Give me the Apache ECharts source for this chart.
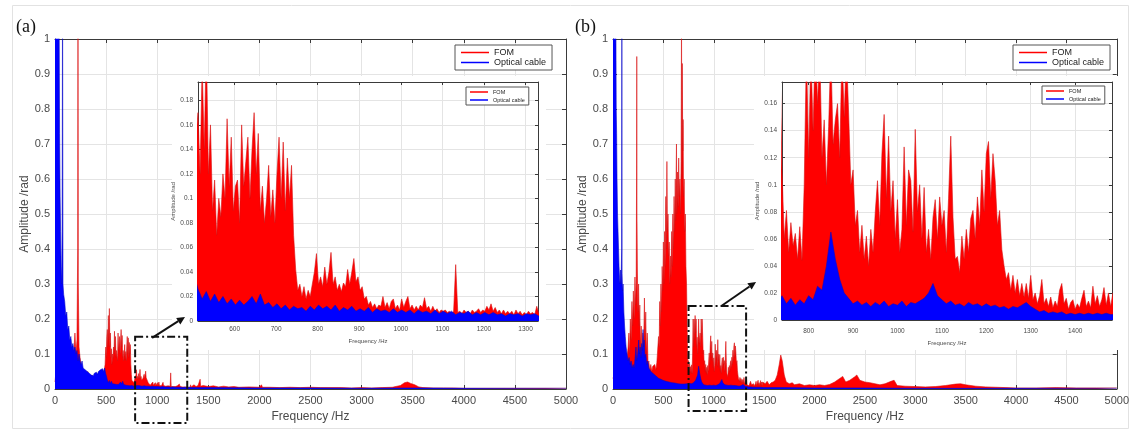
<!DOCTYPE html>
<html><head><meta charset="utf-8">
<script src="https://cdn.jsdelivr.net/npm/echarts@6/dist/echarts.min.js"></script>
<style>html,body{margin:0;padding:0;background:#fff}#c{width:1132px;height:432px}</style>
</head><body><div id="c"></div>
<script>
// ---------------- tick labels ----------------
const mainXTicks = [0,500,1000,1500,2000,2500,3000,3500,4000,4500,5000];
const mainYTicks = [0,0.1,0.2,0.3,0.4,0.5,0.6,0.7,0.8,0.9,1];
const insetAXTicks = [600,700,800,900,1000,1100,1200,1300];
const insetAYTicks = [0,0.02,0.04,0.06,0.08,0.1,0.12,0.14,0.16,0.18];
const insetBXTicks = [800,900,1000,1100,1200,1300,1400];
const insetBYTicks = [0,0.02,0.04,0.06,0.08,0.1,0.12,0.14,0.16];
const seriesNames = ['FOM','Optical cable'];

// ---------------- panel (a) data ----------------
const fomA_low = [[0,0.02],[10,0.05],[20,0.03],[30,0.04],[40,0.02],[60,0.03],[80,0.02],[100,0.04],[120,0.03],[140,0.05],[160,0.04],[180,0.08],[195,0.16],[205,0.1],[215,0.14],[222,0.4],[225,1.2],[228,0.3],[235,0.12],[245,0.09],[260,0.06],[280,0.05],[300,0.04],[320,0.05],[340,0.03],[360,0.04],[380,0.03],[400,0.035],[420,0.03],[440,0.04],[460,0.035],[480,0.05],[490,0.07],[497,0.12],[502,0.09],[507,0.15]];
const fomA_denseStart = 512, fomA_denseStep = 5;
const fomA_dense = [
0.17,0.12,0.21,0.14,0.23,0.12,0.16,0.09,0.115,0.07,
0.1,0.085,0.12,0.1,0.165,0.11,0.15,0.09,0.11,0.115,
0.08,0.16,0.11,0.13,0.15,0.1,0.14,0.17,0.12,0.153,
0.09,0.11,0.08,0.1,0.127,0.085,0.107,0.08,0.12,0.15,
0.1,0.146,0.09,0.133,0.1,0.127,0.07,0.042,0.025,0.03,
0.02,0.028,0.018,0.025,0.02,0.03,0.04,0.055,0.03,0.036,
0.028,0.044,0.03,0.04,0.056,0.03,0.036,0.025,0.03,0.024,
0.031,0.028,0.042,0.03,0.04,0.051,0.032,0.036,0.025,0.028,
0.018,0.02,0.013,0.016,0.011,0.014,0.01,0.013,0.012,0.02,
0.011,0.015,0.01,0.016,0.018,0.01,0.013,0.009,0.018,0.011,
0.016,0.02,0.01,0.013,0.009,0.012,0.009,0.013,0.011,0.019,
0.01,0.012,0.008,0.012,0.008,0.01,0.007,0.009,0.008,0.009,
0.007,0.008,0.006,0.008,0.046,0.007,0.008,0.006,0.009,0.007,
0.008,0.006,0.009,0.007,0.008,0.01,0.007,0.009,0.008,0.012,
0.009,0.014,0.008,0.011,0.007,0.009,0.006,0.009,0.006,0.008,
0.006,0.008,0.005,0.009,0.006,0.008,0.005,0.007,0.005,0.008,
0.006,0.007,0.005,0.012,0.006];
const fomA_high = [[1340,0.008],[1360,0.012],[1380,0.007],[1400,0.01],[1420,0.028],[1425,0.008],[1450,0.01],[1500,0.007],[1550,0.009],[1600,0.006],[1650,0.008],[1700,0.006],[1750,0.007],[1800,0.005],[1900,0.006],[2000,0.005],[2020,0.012],[2030,0.005],[2100,0.005],[2200,0.004],[2300,0.005],[2400,0.004],[2500,0.005],[2600,0.004],[2700,0.004],[2800,0.004],[2900,0.003],[3000,0.004],[3100,0.003],[3200,0.004],[3300,0.005],[3380,0.01],[3420,0.018],[3450,0.02],[3480,0.016],[3520,0.012],[3560,0.006],[3600,0.004],[3700,0.003],[3800,0.003],[3900,0.003],[4000,0.002],[4200,0.002],[4400,0.002],[4600,0.002],[4800,0.002],[5000,0.002]];

const cableA_low = [[0,1.2],[5,1.3],[10,1.2],[20,1.25],[30,1.2],[40,1.1],[45,0.73],[50,0.55],[55,0.45],[60,0.35],[65,0.3],[70,0.45],[74,1.2],[78,0.3],[85,0.27],[95,0.25],[105,0.21],[115,0.22],[125,0.17],[135,0.18],[145,0.14],[155,0.15],[165,0.12],[175,0.13],[185,0.11],[195,0.12],[205,0.1],[215,0.11],[225,0.08],[235,0.1],[245,0.08],[255,0.07],[265,0.08],[275,0.06],[285,0.065],[295,0.055],[305,0.06],[315,0.05],[325,0.055],[335,0.045],[345,0.05],[355,0.04],[365,0.045],[375,0.038],[385,0.045],[395,0.04],[405,0.048],[415,0.042],[425,0.05],[435,0.045],[445,0.055],[455,0.05],[465,0.058],[475,0.05],[485,0.06],[495,0.045],[505,0.035]];
const cableA_denseStart = 512, cableA_denseStep = 10;
const cableA_dense = [
0.026,0.018,0.024,0.016,0.022,0.015,0.02,0.014,0.018,0.013,
0.017,0.013,0.016,0.02,0.014,0.022,0.013,0.015,0.011,0.014,
0.01,0.013,0.009,0.012,0.01,0.011,0.008,0.012,0.009,0.013,
0.01,0.012,0.009,0.013,0.008,0.011,0.009,0.012,0.008,0.01,
0.008,0.011,0.007,0.01,0.008,0.009,0.007,0.01,0.007,0.009,
0.007,0.009,0.006,0.009,0.007,0.008,0.006,0.009,0.006,0.008,
0.006,0.008,0.005,0.007,0.006,0.008,0.005,0.007,0.005,0.007,
0.005,0.007,0.005,0.006,0.004,0.006,0.005,0.006,0.004,0.006,
0.005,0.006,0.004];
const cableA_high = [[1340,0.005],[1500,0.004],[2000,0.003],[2500,0.003],[3000,0.002],[3500,0.003],[4000,0.002],[5000,0.002]];

// ---------------- panel (b) data ----------------
const fomB_low = [[0,0.03],[20,0.05],[40,0.04],[60,0.06],[80,0.05],[100,0.07],[120,0.06],[140,0.09],[150,0.12],[158,0.16],[165,0.1],[172,0.2],[180,0.14],[188,0.25],[195,0.18],[202,0.28],[210,0.2],[218,0.32],[225,0.24],[230,0.3],[234,0.6],[236,0.95],[238,0.5],[242,0.34],[248,0.22],[254,0.3],[260,0.18],[266,0.24],[272,0.12],[280,0.18],[288,0.1],[296,0.16],[304,0.12],[312,0.26],[318,0.14],[325,0.22],[332,0.1],[340,0.16],[348,0.07],[356,0.08],[365,0.05],[375,0.07],[385,0.05],[395,0.065],[405,0.06],[415,0.07],[425,0.055],[435,0.075],[445,0.08],[452,0.15],[458,0.12],[464,0.25],[470,0.18],[476,0.3],[482,0.22],[488,0.35],[494,0.28],[500,0.42],[506,0.3],[512,0.45],[518,0.35],[524,0.55],[530,0.4],[535,0.65],[540,0.45],[546,0.5],[552,0.38],[558,0.42],[564,0.3],[570,0.38],[576,0.32],[582,0.45],[588,0.35],[594,0.5],[600,0.4],[606,0.55],[612,0.45],[618,0.6],[622,0.48],[626,0.6],[630,0.7],[634,0.5],[640,0.62],[646,0.52],[652,0.66],[658,0.55],[664,0.6],[670,0.5],[676,0.65],[680,1.05],[684,0.6],[688,0.93],[692,0.68],[696,0.77],[700,0.55],[706,0.6],[712,0.45],[718,0.5],[724,0.35],[730,0.3],[735,0.2]];
const fomB_denseStart = 740, fomB_denseStep = 5;
const fomB_dense = [
0.111,0.06,0.081,0.05,0.072,0.055,0.064,0.045,0.069,0.044,
0.1,0.2,0.12,0.2,0.14,0.21,0.16,0.2,0.12,0.148,
0.1,0.143,0.2,0.13,0.148,0.16,0.12,0.2,0.15,0.2,
0.153,0.1,0.111,0.07,0.081,0.05,0.07,0.045,0.062,0.04,
0.067,0.05,0.08,0.103,0.07,0.123,0.152,0.09,0.136,0.08,
0.103,0.06,0.089,0.05,0.067,0.128,0.07,0.111,0.103,0.065,
0.141,0.08,0.1,0.06,0.098,0.05,0.067,0.045,0.076,0.089,
0.06,0.091,0.07,0.081,0.05,0.09,0.136,0.076,0.045,0.047,
0.035,0.062,0.045,0.067,0.05,0.075,0.081,0.06,0.091,0.07,
0.111,0.08,0.123,0.132,0.09,0.123,0.103,0.07,0.081,0.052,
0.04,0.03,0.035,0.022,0.033,0.02,0.03,0.018,0.027,0.017,
0.027,0.016,0.033,0.015,0.02,0.012,0.018,0.03,0.012,0.016,
0.01,0.017,0.009,0.014,0.01,0.022,0.027,0.012,0.016,0.008,
0.013,0.015,0.008,0.012,0.009,0.016,0.022,0.01,0.014,0.009,
0.025,0.012,0.018,0.01,0.015,0.024,0.011,0.02,0.01,0.02];
const fomB_high = [[1490,0.02],[1510,0.015],[1530,0.022],[1550,0.012],[1570,0.018],[1590,0.02],[1610,0.025],[1630,0.04],[1650,0.07],[1665,0.097],[1680,0.08],[1700,0.04],[1720,0.02],[1750,0.015],[1780,0.018],[1800,0.012],[1850,0.015],[1900,0.01],[1950,0.012],[2000,0.01],[2050,0.012],[2100,0.01],[2150,0.013],[2200,0.02],[2250,0.03],[2280,0.036],[2310,0.02],[2350,0.025],[2400,0.035],[2420,0.04],[2450,0.025],[2500,0.02],[2550,0.018],[2600,0.015],[2650,0.012],[2700,0.015],[2760,0.022],[2790,0.025],[2820,0.01],[2900,0.008],[3000,0.007],[3100,0.006],[3200,0.007],[3300,0.01],[3400,0.014],[3450,0.015],[3500,0.012],[3600,0.008],[3700,0.006],[3800,0.005],[3900,0.004],[4000,0.003],[4200,0.003],[4400,0.004],[4600,0.003],[4800,0.003],[5000,0.003]];

const cableB_low = [[0,1.2],[5,1.3],[10,1.2],[20,1.2],[28,1.1],[32,0.8],[36,0.73],[40,0.6],[45,0.5],[50,0.45],[55,0.4],[60,0.35],[65,0.32],[70,0.3],[75,0.34],[80,0.3],[86,0.4],[88,1.2],[90,0.33],[95,0.28],[100,0.3],[108,0.22],[115,0.18],[122,0.15],[130,0.12],[140,0.1],[150,0.08],[160,0.09],[170,0.07],[180,0.08],[190,0.06],[200,0.07],[210,0.06],[220,0.09],[228,0.12],[235,0.08],[245,0.1],[255,0.14],[262,0.1],[270,0.12],[278,0.09],[285,0.13],[292,0.11],[298,0.17],[304,0.12],[310,0.14],[318,0.09],[326,0.1],[335,0.07],[345,0.08],[355,0.06],[365,0.065],[375,0.05],[385,0.055],[395,0.045],[405,0.05],[415,0.04],[425,0.045],[435,0.035],[445,0.04],[455,0.03],[465,0.035],[475,0.028],[485,0.032],[495,0.025],[510,0.03],[525,0.022],[540,0.027],[555,0.02],[570,0.025],[585,0.018],[600,0.022],[615,0.017],[630,0.02],[645,0.015],[660,0.019],[675,0.014],[690,0.018],[705,0.014],[720,0.017],[735,0.015]];
const cableB_denseStart = 740, cableB_denseStep = 10;
const cableB_dense = [
0.018,0.012,0.016,0.011,0.015,0.012,0.018,0.015,0.025,0.022,
0.04,0.065,0.045,0.03,0.02,0.016,0.012,0.014,0.011,0.013,
0.01,0.013,0.011,0.014,0.01,0.012,0.011,0.014,0.01,0.013,
0.012,0.014,0.016,0.02,0.027,0.018,0.015,0.012,0.014,0.011,
0.012,0.01,0.013,0.011,0.012,0.01,0.012,0.01,0.011,0.009,
0.01,0.008,0.01,0.009,0.011,0.013,0.01,0.008,0.006,0.007,
0.005,0.006,0.005,0.006,0.004,0.005,0.004,0.005,0.004,0.005,
0.004,0.005,0.004,0.005,0.004];
const cableB_high = [[1490,0.004],[1700,0.004],[2000,0.003],[2500,0.003],[3000,0.002],[4000,0.002],[5000,0.002]];

// ---------------- annotation anchors (data coordinates of main plots) ----------------
const zoomBoxA = [784, 1294, -0.097, 0.149];
const arrowA = [[950, 0.146], [1272, 0.206]];
const zoomBoxB = [750, 1321, -0.063, 0.237];
const arrowB = [[1075, 0.237], [1420, 0.306]];

// ---------------- build ----------------
function build(low, dense, start, step, high) {
  return low.concat(dense.map((v, i) => [start + i * step, v]), high);
}
const fomA = build(fomA_low, fomA_dense, fomA_denseStart, fomA_denseStep, fomA_high);
const cableA = build(cableA_low, cableA_dense, cableA_denseStart, cableA_denseStep, cableA_high);
const fomB = build(fomB_low, fomB_dense, fomB_denseStart, fomB_denseStep, fomB_high);
const cableB = build(cableB_low, cableB_dense, cableB_denseStart, cableB_denseStep, cableB_high);

const FONT = '"Liberation Sans", Arial, sans-serif';
const AX = '#3a3a3a', TXT = '#4a4a4a', SPL = '#e4e4e4';
const fmt = v => String(parseFloat(Number(v).toFixed(6)));

function axis(gi, range, ticks, pos, o) {
  const lab = o.labels;
  const a = {
    type: 'value', gridIndex: gi, position: pos, min: range[0], max: range[1], z: o.z || 0,
    axisLine: {show: true, onZero: false, lineStyle: {color: AX, width: 1}},
    axisTick: {show: true, inside: true, length: o.tick, customValues: ticks, lineStyle: {color: AX, width: 1}},
    axisLabel: {show: lab, customValues: ticks, fontSize: o.fs, color: TXT, margin: o.margin, fontFamily: FONT, formatter: fmt, hideOverlap: false},
    splitLine: {show: lab, lineStyle: {color: SPL, width: 1}},
    silent: true
  };
  if (lab && o.name) {
    a.name = o.name; a.nameLocation = 'middle'; a.nameGap = o.nameGap;
    a.nameTextStyle = {fontSize: o.nfs, color: TXT, fontFamily: FONT};
  }
  return a;
}

const mainXR = [0, 5000], mainYR = [0, 1];
const inAXR = [512, 1330], inAYR = [0, 0.195];
const inBXR = [740, 1483], inBYR = [0, 0.176];

const mainX = {tick: 4, fs: 11, margin: 6, name: 'Frequency /Hz', nameGap: 17, nfs: 12};
const mainY = {tick: 4, fs: 11, margin: 5, name: 'Amplitude /rad', nameGap: 21, nfs: 12};
const inX = (m, g) => ({tick: 3, fs: 6.5, margin: m, name: 'Frequency /Hz', nameGap: g, nfs: 6, z: 6});
const inY = (g) => ({tick: 3, fs: 6.5, margin: 5, name: 'Amplitude /rad', nameGap: g, nfs: 6, z: 6});

const xAxis = [
  axis(0, mainXR, mainXTicks, 'bottom', Object.assign({labels: true}, mainX)),
  axis(1, inAXR, insetAXTicks, 'bottom', Object.assign({labels: true}, inX(5, 16))),
  axis(2, mainXR, mainXTicks, 'bottom', Object.assign({labels: true}, mainX)),
  axis(3, inBXR, insetBXTicks, 'bottom', Object.assign({labels: true}, inX(8, 20))),
  axis(0, mainXR, mainXTicks, 'top', {labels: false, tick: 4}),
  axis(1, inAXR, insetAXTicks, 'top', {labels: false, tick: 3, z: 6}),
  axis(2, mainXR, mainXTicks, 'top', {labels: false, tick: 4}),
  axis(3, inBXR, insetBXTicks, 'top', {labels: false, tick: 3, z: 6})
];
const yAxis = [
  axis(0, mainYR, mainYTicks, 'left', Object.assign({labels: true}, mainY)),
  axis(1, inAYR, insetAYTicks, 'left', Object.assign({labels: true}, inY(14))),
  axis(2, mainYR, mainYTicks, 'left', Object.assign({labels: true}, mainY)),
  axis(3, inBYR, insetBYTicks, 'left', Object.assign({labels: true}, inY(18))),
  axis(0, mainYR, mainYTicks, 'right', {labels: false, tick: 4}),
  axis(1, inAYR, insetAYTicks, 'right', {labels: false, tick: 3, z: 6}),
  axis(2, mainYR, mainYTicks, 'right', {labels: false, tick: 4}),
  axis(3, inBYR, insetBYTicks, 'right', {labels: false, tick: 3, z: 6})
];

const RED = '#ff0000', REDL = '#d81010', BLUE = '#0000ff', BLUEL = '#0808c8';
function spec(name, data, idx, color, line, z) {
  return {name, type: 'line', data, xAxisIndex: idx, yAxisIndex: idx, symbol: 'none', showSymbol: false,
    clip: true, z, color, lineStyle: {color: line, width: 0.6}, areaStyle: {color, opacity: 1},
    silent: true, emphasis: {disabled: true}, animation: false};
}
const series = [
  spec(seriesNames[0], fomA, 0, RED, REDL, 2),
  spec(seriesNames[1], cableA, 0, BLUE, BLUEL, 3),
  spec(seriesNames[0], fomA, 1, RED, REDL, 7),
  spec(seriesNames[1], cableA, 1, BLUE, BLUEL, 8),
  spec(seriesNames[0], fomB, 2, RED, REDL, 2),
  spec(seriesNames[1], cableB, 2, BLUE, BLUEL, 3),
  spec(seriesNames[0], fomB, 3, RED, REDL, 7),
  spec(seriesNames[1], cableB, 3, BLUE, BLUEL, 8)
];

function legend(left, top, fs, iw, pad, gap) {
  return {show: true, left, top, orient: 'vertical', data: seriesNames, icon: 'rect',
    itemWidth: iw, itemHeight: 1.5, itemGap: gap, padding: pad, borderColor: '#555', borderWidth: 1,
    backgroundColor: '#fff', borderRadius: 0, selectedMode: false, z: 10,
    textStyle: {fontSize: fs, color: '#222', fontFamily: FONT}};
}

const option = {
  animation: false,
  backgroundColor: '#fff',
  textStyle: {fontFamily: FONT},
  grid: [
    {left: 55, top: 39, width: 511, height: 350, show: true, borderWidth: 0, backgroundColor: '#fff', z: 0},
    {left: 198, top: 82, width: 340, height: 239, show: true, borderWidth: 0, backgroundColor: '#fff', z: 5},
    {left: 613, top: 39, width: 508, height: 350, show: true, borderWidth: 0, backgroundColor: '#fff', z: 0},
    {left: 782, top: 82, width: 330, height: 238, show: true, borderWidth: 0, backgroundColor: '#fff', z: 5}
  ],
  xAxis, yAxis, series,
  legend: [
    legend(455, 45, 9, 28, [3, 6], 1),
    legend(1013, 45, 9, 28, [3, 6], 1),
    legend(466, 87, 5.5, 18, [2, 4], 2),
    legend(1042, 86, 5.5, 18, [2, 4], 2)
  ]
};

const chart = echarts.init(document.getElementById('c'), null, {renderer: 'canvas'});
chart.setOption(option);

const toPx = (i, p) => chart.convertToPixel({xAxisIndex: i, yAxisIndex: i}, p);
const g = [];
g.push({type: 'rect', shape: {x: 12.5, y: 5.5, width: 1116, height: 423}, style: {fill: null, stroke: '#e2e2e2', lineWidth: 1}, z: 0, silent: true});
function paper(i, xr, yr, padL, padR, padT, padB) {
  const tl = toPx(i, [xr[0], yr[1]]), br = toPx(i, [xr[1], yr[0]]);
  g.push({type: 'rect', shape: {x: tl[0] - padL, y: tl[1] - padT, width: br[0] - tl[0] + padL + padR, height: br[1] - tl[1] + padT + padB},
    style: {fill: '#fff', stroke: null}, z: 4, silent: true});
}
paper(1, inAXR, inAYR, 26, 8, 6, 29);
paper(3, inBXR, inBYR, 28, 6, 6, 30);
function zoomBox(i, b) {
  const p1 = toPx(i, [b[0], b[3]]), p2 = toPx(i, [b[1], b[2]]);
  g.push({type: 'rect', shape: {x: p1[0], y: p1[1], width: p2[0] - p1[0], height: p2[1] - p1[1]},
    style: {fill: null, stroke: '#111', lineWidth: 2, lineDash: [8, 3, 2, 3]}, z: 20, silent: true});
}
function arrow(i, a) {
  const s = toPx(i, a[0]), e = toPx(i, a[1]);
  const dx = e[0] - s[0], dy = e[1] - s[1], L = Math.hypot(dx, dy);
  const ux = dx / L, uy = dy / L, hl = 8, hw = 3.8;
  const bx = e[0] - ux * hl, by = e[1] - uy * hl;
  g.push({type: 'line', shape: {x1: s[0], y1: s[1], x2: bx, y2: by}, style: {stroke: '#111', lineWidth: 2}, z: 20, silent: true});
  g.push({type: 'polygon', shape: {points: [[e[0], e[1]], [bx - uy * hw, by + ux * hw], [bx + uy * hw, by - ux * hw]]}, style: {fill: '#111'}, z: 20, silent: true});
}
zoomBox(0, zoomBoxA); arrow(0, arrowA);
zoomBox(2, zoomBoxB); arrow(2, arrowB);
g.push({type: 'text', x: 16, y: 18, style: {text: '(a)', font: '18px "Liberation Serif", "Times New Roman", serif', fill: '#111'}, z: 20, silent: true});
g.push({type: 'text', x: 575, y: 18, style: {text: '(b)', font: '18px "Liberation Serif", "Times New Roman", serif', fill: '#111'}, z: 20, silent: true});
chart.setOption({graphic: {elements: g}});
</script></body></html>
